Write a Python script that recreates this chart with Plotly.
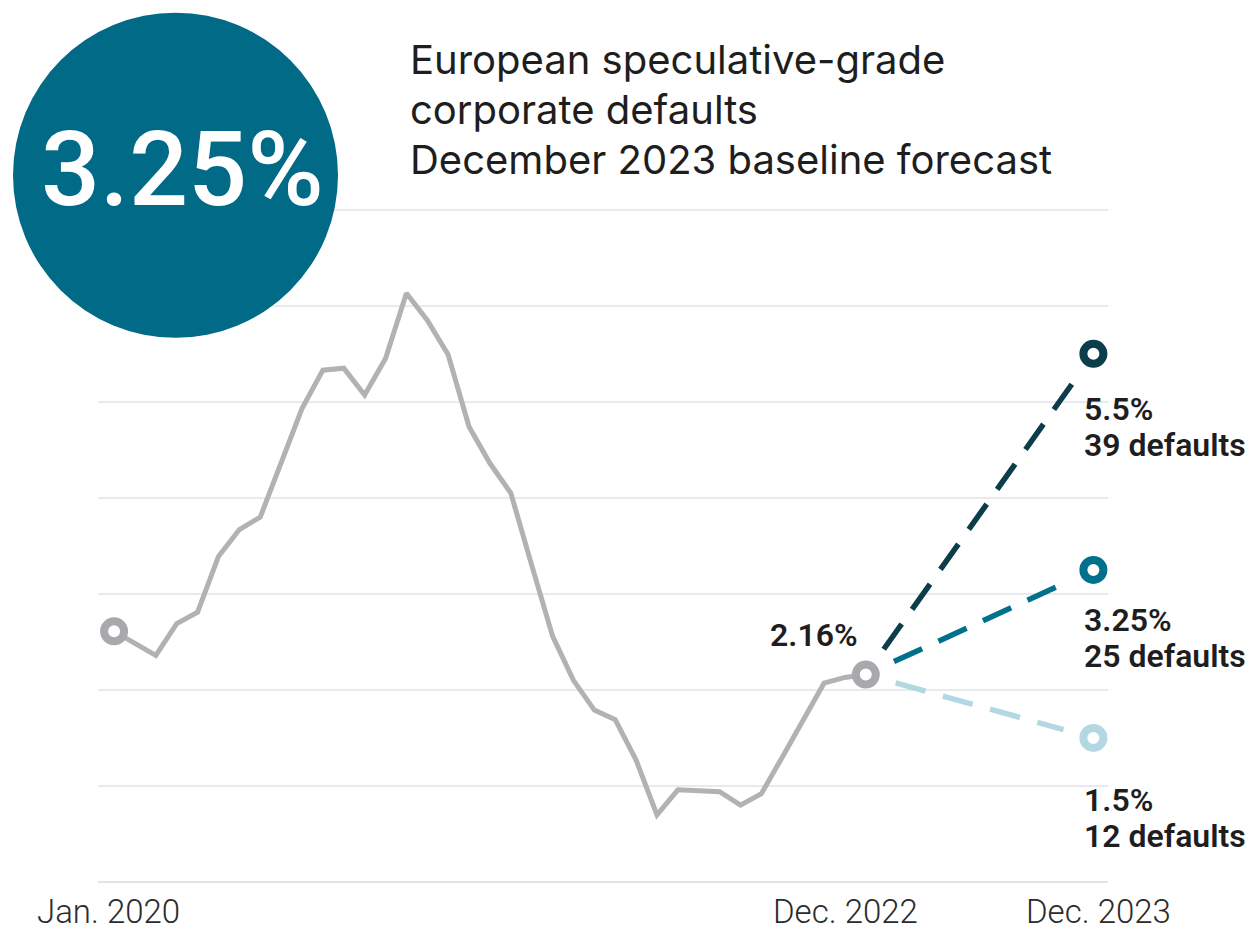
import plotly.graph_objects as go

# ---------------- data ----------------
months = list(range(37))  # Jan. 2020 ... Dec. 2022 (index)
default_rate = [2.61, 2.49, 2.36, 2.69, 2.81, 3.39, 3.67, 3.80, 4.36, 4.93,
                5.33, 5.35, 5.07, 5.45, 6.13, 5.85, 5.49, 4.74, 4.36, 4.05,
                3.30, 2.56, 2.10, 1.79, 1.69, 1.27, 0.70, 0.96, 0.95, 0.94,
                0.80, 0.92, 1.30, 1.69, 2.07, 2.13, 2.16]
last_label = "2.16%"
scenario_values = [5.5, 3.25, 1.5]
scenario_pct = ["5.5%", "3.25%", "1.5%"]
scenario_defaults = ["39 defaults", "25 defaults", "12 defaults"]
tick_labels = ["Jan. 2020", "Dec. 2022", "Dec. 2023"]
headline = "3.25%"
subtitle_lines = ["European speculative-grade", "corporate defaults",
                  "December 2023 baseline forecast"]

# ---------------- layout constants ----------------
W, H = 1252, 932
FC_X = 46.9                      # horizontal position of the Dec. 2023 forecast
X_RANGE = [-0.77, 47.6]
Y_RANGE = [0, 7.06]
PX_PER_PCT = 96
L, R, B = 98, 144, 50
T = H - B - PX_PER_PCT * (Y_RANGE[1] - Y_RANGE[0])
plot_w = W - L - R
plot_h = H - T - B
px_x = plot_w / (X_RANGE[1] - X_RANGE[0])
px_y = plot_h / (Y_RANGE[1] - Y_RANGE[0])

GREY_LINE = "#b1b2b4"
GREY_MARK = "#a7a9ac"
SC_COLORS = ["#0b3d4a", "#00708c", "#b3d8e2"]
BIG_CIRCLE = "#006a87"
TEXT = "#1e1e1e"
FONT = "Roboto, Inter, Arial, sans-serif"
FONT_SUB = "Inter, Roboto, Arial, sans-serif"


def paper_x(px):
    return (px - L) / plot_w


def paper_y(py):
    return (H - B - py) / plot_h


fig = go.Figure()

# history line
fig.add_trace(go.Scatter(x=months, y=default_rate, mode="lines",
                         line=dict(color=GREY_LINE, width=5),
                         hoverinfo="skip", cliponaxis=False))

# scenario dashed lines (start/end pulled back from the circles)
x0, y0 = months[-1], default_rate[-1]
gap = 31
for val, col in zip(scenario_values, SC_COLORS):
    dxp = (FC_X - x0) * px_x
    dyp = (val - y0) * px_y
    length = (dxp ** 2 + dyp ** 2) ** 0.5
    f0, f1 = gap / length, 1 - gap / length
    fig.add_trace(go.Scatter(
        x=[x0 + f0 * (FC_X - x0), x0 + f1 * (FC_X - x0)],
        y=[y0 + f0 * (val - y0), y0 + f1 * (val - y0)],
        mode="lines", line=dict(color=col, width=5.5, dash="31px,18px"),
        hoverinfo="skip", cliponaxis=False))

# grey ring markers at first and last points
fig.add_trace(go.Scatter(x=[months[0], months[-1]], y=[default_rate[0], default_rate[-1]],
                         mode="markers",
                         marker=dict(size=20, color="white", line=dict(color=GREY_MARK, width=8)),
                         hoverinfo="skip", cliponaxis=False))

# scenario ring markers
fig.add_trace(go.Scatter(x=[FC_X] * 3, y=scenario_values, mode="markers",
                         marker=dict(size=20, color="white", line=dict(color=SC_COLORS, width=8)),
                         hoverinfo="skip", cliponaxis=False))

annotations = []
# last actual value label
annotations.append(dict(x=x0, y=y0, xref="x", yref="y", text=last_label, showarrow=False,
                        xanchor="right", yanchor="middle", xshift=-6, yshift=40,
                        font=dict(family=FONT, size=32, color=TEXT, weight=600)))
# scenario labels
offsets = [(-55, -91), (-50, -86), (-62, -98)]
for val, p, d, (o1, o2) in zip(scenario_values, scenario_pct, scenario_defaults, offsets):
    annotations.append(dict(x=FC_X, y=val, xref="x", yref="y", text=p, showarrow=False,
                            xanchor="left", yanchor="middle", xshift=-11, yshift=o1,
                            font=dict(family=FONT, size=32, color=TEXT, weight=600)))
    annotations.append(dict(x=FC_X, y=val, xref="x", yref="y", text=d, showarrow=False,
                            xanchor="left", yanchor="middle", xshift=-11, yshift=o2,
                            font=dict(family=FONT, size=32, color=TEXT, weight=600)))
# x tick labels
for xv, lab, sh in zip([months[0], months[-1], FC_X], tick_labels, [-6, -20, 5]):
    annotations.append(dict(x=xv, y=0, xref="x", yref="paper", text=lab, showarrow=False,
                            xanchor="center", yanchor="middle", xshift=sh, yshift=-29,
                            font=dict(family=FONT, size=33, color="#2b2b2b", weight=300)))
# subtitle
for i, line in enumerate(subtitle_lines):
    annotations.append(dict(x=paper_x(408), y=paper_y(60 + 50 * i), xref="paper", yref="paper",
                            text=line, showarrow=False, xanchor="left", yanchor="middle",
                            font=dict(family=FONT_SUB, size=40, color=TEXT)))
# big headline number
annotations.append(dict(x=paper_x(182), y=paper_y(170), xref="paper", yref="paper",
                        text=headline, showarrow=False, xanchor="center", yanchor="middle",
                        font=dict(family=FONT, size=104, color="white", weight=500)))

shapes = [dict(type="circle", xref="paper", yref="paper", layer="above",
               x0=paper_x(13), x1=paper_x(338), y0=paper_y(338), y1=paper_y(13),
               fillcolor=BIG_CIRCLE, line=dict(width=0))]

fig.update_layout(
    width=W, height=H, autosize=False,
    margin=dict(l=L, r=R, t=T, b=B, pad=0),
    paper_bgcolor="white", plot_bgcolor="white",
    showlegend=False,
    xaxis=dict(range=X_RANGE, showgrid=False, zeroline=False, showticklabels=False,
               showline=False, ticks="", fixedrange=True),
    yaxis=dict(range=Y_RANGE, tick0=0, dtick=1, showgrid=True, gridcolor="#e9eaeb", gridwidth=2,
               zeroline=True, zerolinecolor="#e2e3e4", zerolinewidth=2,
               showticklabels=False, showline=False, ticks="", fixedrange=True),
    annotations=annotations,
    shapes=shapes,
)

fig.write_html("out.html", config={"displayModeBar": False},
               post_script="document.body.style.margin='0';")
